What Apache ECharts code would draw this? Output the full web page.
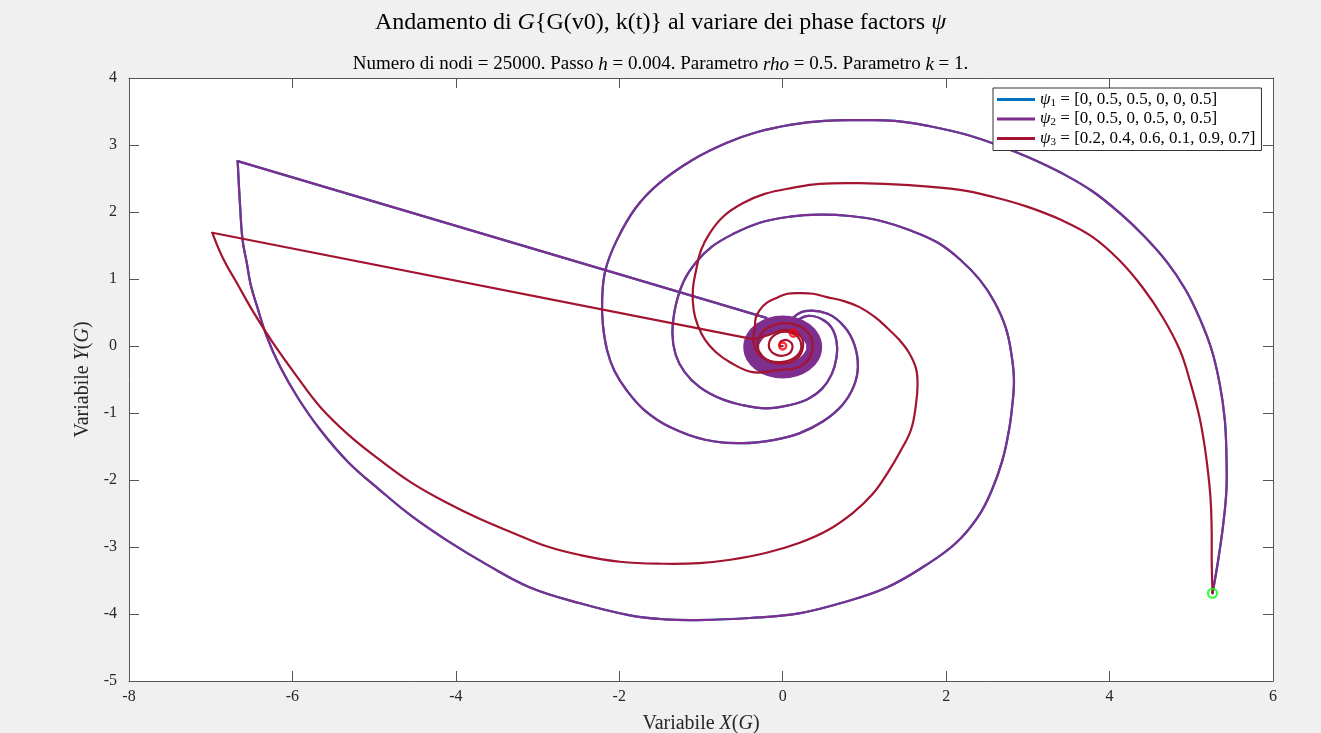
<!DOCTYPE html>
<html>
<head>
<meta charset="utf-8">
<script src="https://cdn.jsdelivr.net/npm/echarts@6/dist/echarts.min.js"></script>
<style>
  html, body { margin: 0; padding: 0; background: #f0f0f0; }
  #chart { width: 1321px; height: 733px; }
</style>
</head>
<body>
<div id="chart"></div>
<script>
// ---- Trajectory samples (X(G), Y(G)) ----

// psi_2: spiral leaving the initial point and winding into the core
const psi2FromStart = [
  [5.26,-3.69],[5.33,-3.19],[5.39,-2.67],[5.43,-2.15],[5.43,-1.63],[5.41,-1.10],[5.35,-0.58],
  [5.25,-0.06],[5.10,0.42],[4.93,0.84],[4.71,1.24],[4.43,1.63],[4.12,1.99],[3.79,2.31],
  [3.43,2.57],[3.02,2.81],[2.65,2.99],[2.23,3.16],[1.80,3.28],[1.37,3.36],[0.94,3.37],
  [0.51,3.36],[0.09,3.30],[-0.32,3.19],[-0.69,3.03],[-1.10,2.78],[-1.51,2.43],[-1.80,2.06],
  [-2.03,1.58],[-2.17,1.13],[-2.21,0.69],[-2.20,0.31],[-2.15,-0.06],[-2.06,-0.37],
  [-1.91,-0.66],[-1.69,-0.96],[-1.38,-1.21],[-0.95,-1.40],[-0.49,-1.45],[-0.10,-1.40],
  [0.21,-1.30],[0.50,-1.12],[0.73,-0.88],[0.87,-0.60],[0.92,-0.31],[0.88,0.01],[0.76,0.28],
  [0.55,0.48],[0.27,0.52],[0.09,0.38]
];
// psi_2: jump out of the core
const psi2Jump = [[-0.20,0.42],[-6.67,2.76]];
// psi_2: second spiral back into the core
const psi2FromJump = [
  [-6.67,2.76],[-6.64,2.08],[-6.61,1.58],[-6.56,1.25],[-6.51,0.91],[-6.43,0.58],[-6.31,0.13],
  [-6.15,-0.31],[-5.93,-0.78],[-5.66,-1.25],[-5.32,-1.73],[-4.93,-2.15],[-4.54,-2.54],
  [-4.11,-2.90],[-3.61,-3.27],[-3.10,-3.60],[-2.48,-3.84],[-1.87,-4.02],[-1.44,-4.08],
  [-1.04,-4.09],[-0.40,-4.06],[0.20,-3.99],[0.76,-3.82],[1.28,-3.60],[1.74,-3.28],
  [2.12,-2.94],[2.39,-2.55],[2.56,-2.15],[2.69,-1.70],[2.77,-1.25],[2.81,-0.88],[2.83,-0.51],
  [2.80,-0.13],[2.73,0.27],[2.59,0.66],[2.41,0.99],[2.18,1.28],[1.90,1.54],[1.55,1.73],
  [1.19,1.87],[0.82,1.94],[0.45,1.96],[0.09,1.93],[-0.28,1.84],[-0.61,1.67],[-0.87,1.48],
  [-1.06,1.25],[-1.21,0.97],[-1.31,0.60],[-1.35,0.19],[-1.31,-0.13],[-1.20,-0.39],
  [-1.02,-0.61],[-0.77,-0.78],[-0.50,-0.88],[-0.20,-0.93],[0.09,-0.88],[0.31,-0.79],
  [0.48,-0.64],[0.60,-0.42],[0.66,-0.16],[0.66,0.06],[0.60,0.27],[0.48,0.40],[0.31,0.45],
  [0.15,0.36]
];
// psi_2: dense band of windings around the equilibrium (closed loop)
const psi2Core = [
  [0.385,-0.015],[0.356,0.119],[0.272,0.232],[0.147,0.308],[0.0,0.335],[-0.147,0.308],
  [-0.272,0.232],[-0.356,0.119],[-0.385,-0.015],[-0.356,-0.149],[-0.272,-0.262],
  [-0.147,-0.338],[0.0,-0.365],[0.147,-0.338],[0.272,-0.262],[0.356,-0.149]
];

// psi_1 follows the same path as psi_2
const psi1FromStart = psi2FromStart;
const psi1Jump = psi2Jump;
const psi1FromJump = psi2FromJump;

// psi_3: spiral leaving the initial point
const psi3FromStart = [
  [5.26,-3.69],[5.25,-3.19],[5.25,-2.79],[5.24,-2.37],[5.22,-2.05],[5.17,-1.55],[5.10,-1.06],
  [4.99,-0.55],[4.86,-0.06],[4.65,0.43],[4.40,0.88],[4.12,1.28],[3.79,1.63],[3.41,1.88],
  [2.99,2.08],[2.59,2.22],[2.17,2.33],[1.55,2.40],[0.94,2.43],[0.45,2.42],[0.12,2.36],
  [-0.22,2.27],[-0.49,2.13],[-0.72,1.94],[-0.89,1.69],[-1.00,1.43],[-1.06,1.13],[-1.10,0.84],
  [-1.09,0.54],[-1.04,0.31],[-0.95,0.09],[-0.82,-0.09],[-0.65,-0.24],[-0.37,-0.39],
  [-0.07,-0.36],[0.22,-0.30],[0.36,-0.08],[0.32,0.18],[0.12,0.33],[-0.14,0.30],[-0.30,0.10],
  [-0.26,-0.14],[-0.06,-0.26],[0.16,-0.20],[0.25,0.00],[0.20,0.17],[0.02,0.24],[-0.18,0.16],
  [-0.35,0.10]
];
// psi_3: jump out of the core
const psi3Jump = [[-0.35,0.10],[-6.98,1.69]];
// psi_3: second spiral back into the core
const psi3FromJump = [
  [-6.98,1.69],[-6.85,1.31],[-6.68,0.94],[-6.47,0.49],[-6.24,0.05],[-5.96,-0.43],[-5.66,-0.91],
  [-5.31,-1.33],[-4.93,-1.70],[-4.53,-2.05],[-4.11,-2.34],[-3.71,-2.58],[-3.30,-2.79],
  [-2.89,-2.99],[-2.48,-3.12],[-1.99,-3.22],[-1.46,-3.25],[-1.02,-3.24],[-0.64,-3.19],
  [-0.21,-3.09],[0.20,-2.94],[0.55,-2.75],[0.86,-2.49],[1.10,-2.21],[1.28,-1.90],[1.44,-1.57],
  [1.57,-1.25],[1.63,-0.88],[1.65,-0.58],[1.63,-0.33],[1.54,-0.09],[1.42,0.10],[1.27,0.28],
  [1.13,0.43],[0.94,0.58],[0.75,0.67],[0.54,0.73],[0.37,0.78],[0.21,0.79],[0.06,0.78],
  [-0.07,0.72],[-0.20,0.64],[-0.28,0.54],[-0.33,0.42],[-0.34,0.28],[-0.36,0.05],
  [-0.25,-0.17],[-0.02,-0.24],[0.18,-0.14],[0.22,0.06],[0.10,0.20],[-0.08,0.18],[-0.17,0.02],
  [-0.10,-0.12],[0.05,-0.13],[0.12,-0.02],[0.07,0.08],[-0.02,0.07],[-0.04,0.00],[0.00,0.00]
];

// Initial point and final points
const startPoint = [[5.26,-3.69]];
const endPoints = [[0.00,0.00],[0.13,0.19]];

// Legend labels
const seriesNames = [
  'ψ1 = [0, 0.5, 0.5, 0, 0, 0.5]',
  'ψ2 = [0, 0.5, 0, 0.5, 0, 0.5]',
  'ψ3 = [0.2, 0.4, 0.6, 0.1, 0.9, 0.7]'
];
const seriesColors = ['#0072BD', '#7E2F8E', '#A2142F'];

// Axis ranges
const xRange = { min: -8, max: 6, interval: 2 };
const yRange = { min: -5, max: 4, interval: 1 };

const FONT = '"Liberation Serif", "DejaVu Serif", serif';
const LINE_W = 2.2;
const SMOOTH = 0.4;

// A trajectory drawn as one smooth path through its samples, mapped by the cartesian axes
function curve(idx, data, opts) {
  const o = Object.assign({ smooth: SMOOTH, width: LINE_W, closed: false }, opts || {});
  return {
    name: seriesNames[idx],
    type: 'custom',
    coordinateSystem: 'cartesian2d',
    data: data,
    encode: { x: 0, y: 1 },
    silent: true,
    animation: false,
    clip: false,
    z: 2 + idx,
    itemStyle: { color: seriesColors[idx] },
    renderItem: function (params, api) {
      if (params.dataIndex !== 0) return null;
      const pts = data.map(function (p) { return api.coord(p); });
      return {
        type: o.closed ? 'polygon' : 'polyline',
        shape: { points: pts, smooth: o.smooth },
        style: {
          fill: o.closed ? 'none' : null,
          stroke: seriesColors[idx],
          lineWidth: o.width,
          lineJoin: 'round',
          lineCap: 'round'
        },
        silent: true
      };
    }
  };
}

const axisCommon = {
  type: 'value',
  splitLine: { show: false },
  axisLine: { show: true, onZero: false, lineStyle: { color: '#555555', width: 1 } },
  axisTick: { show: true, inside: true, length: 10, lineStyle: { color: '#555555' } }
};

const chart = echarts.init(document.getElementById('chart'), null, { renderer: 'canvas' });

chart.setOption({
  backgroundColor: '#f0f0f0',
  animation: false,
  title: [
    {
      text: 'Andamento di {i|G}{G(v0), k(t)} al variare dei phase factors {i|ψ}',
      left: 'center', top: 6,
      textStyle: {
        fontFamily: FONT, fontSize: 24, fontWeight: 'normal', color: '#000',
        rich: { i: { fontFamily: FONT, fontSize: 24, fontStyle: 'italic', color: '#000' } }
      }
    },
    {
      text: 'Numero di nodi = 25000. Passo {i|h} = 0.004. Parametro {i|rho} = 0.5. Parametro {i|k} = 1.',
      left: 'center', top: 50,
      textStyle: {
        fontFamily: FONT, fontSize: 19, fontWeight: 'normal', color: '#000',
        rich: { i: { fontFamily: FONT, fontSize: 19, fontStyle: 'italic', color: '#000' } }
      }
    }
  ],
  legend: {
    data: seriesNames,
    left: 993, top: 88,
    orient: 'vertical',
    icon: 'rect',
    itemWidth: 38, itemHeight: 3, itemGap: 2,
    padding: [3, 6, 3, 4],
    backgroundColor: '#ffffff',
    borderColor: '#333', borderWidth: 1, borderRadius: 0,
    selectedMode: false,
    formatter: function (name) {
      const m = name.match(/^ψ(\d)(.*)$/);
      return '{i|ψ}{s|' + m[1] + '}' + '{t|' + m[2] + '}';
    },
    textStyle: {
      fontFamily: FONT, fontSize: 17, color: '#000',
      rich: {
        i: { fontFamily: FONT, fontSize: 17, fontStyle: 'italic', color: '#000', lineHeight: 18 },
        s: { fontFamily: FONT, fontSize: 11, color: '#000', verticalAlign: 'bottom', lineHeight: 18 },
        t: { fontFamily: FONT, fontSize: 17, color: '#000', lineHeight: 18 }
      }
    }
  },
  grid: {
    left: 129, right: 48, top: 78, bottom: 52,
    outerBoundsMode: 'none',
    containLabel: false,
    show: true, backgroundColor: '#ffffff', borderWidth: 0
  },
  xAxis: [
    Object.assign({}, axisCommon, xRange, {
      position: 'bottom',
      name: 'Variabile {i|X}({i|G})',
      nameLocation: 'middle', nameGap: 33,
      nameTextStyle: {
        fontFamily: FONT, fontSize: 20, color: '#262626',
        rich: { i: { fontFamily: FONT, fontSize: 20, fontStyle: 'italic', color: '#262626' } }
      },
      axisLabel: { fontFamily: FONT, fontSize: 16, color: '#262626', margin: 8 }
    }),
    Object.assign({}, axisCommon, xRange, {
      position: 'top', axisLabel: { show: false }
    })
  ],
  yAxis: [
    Object.assign({}, axisCommon, yRange, {
      position: 'left',
      name: 'Variabile {i|Y}({i|G})',
      nameLocation: 'middle', nameGap: 16,
      nameTextStyle: {
        fontFamily: FONT, fontSize: 20, color: '#262626',
        rich: { i: { fontFamily: FONT, fontSize: 20, fontStyle: 'italic', color: '#262626' } }
      },
      axisLabel: { fontFamily: FONT, fontSize: 16, color: '#262626', margin: 12 }
    }),
    Object.assign({}, axisCommon, yRange, {
      position: 'right', axisLabel: { show: false }
    })
  ],
  series: [
    curve(0, psi1FromStart),
    curve(0, psi1Jump, { smooth: 0 }),
    curve(0, psi1FromJump),
    curve(1, psi2Core, { closed: true, smooth: 0.5, width: 16 }),
    curve(1, psi2FromStart),
    curve(1, psi2Jump, { smooth: 0 }),
    curve(1, psi2FromJump),
    curve(2, psi3FromStart),
    curve(2, psi3Jump, { smooth: 0 }),
    curve(2, psi3FromJump),
    {
      name: 'start', type: 'scatter', data: startPoint, symbol: 'circle', symbolSize: 9,
      silent: true, z: 10,
      itemStyle: { color: 'rgba(0,0,0,0)', borderColor: '#00ff00', borderWidth: 2.2 }
    },
    {
      name: 'end', type: 'scatter', data: endPoints, symbol: 'circle', symbolSize: 7,
      silent: true, z: 10,
      itemStyle: { color: 'rgba(0,0,0,0)', borderColor: '#ff0000', borderWidth: 2.4 }
    }
  ]
});
</script>
</body>
</html>
